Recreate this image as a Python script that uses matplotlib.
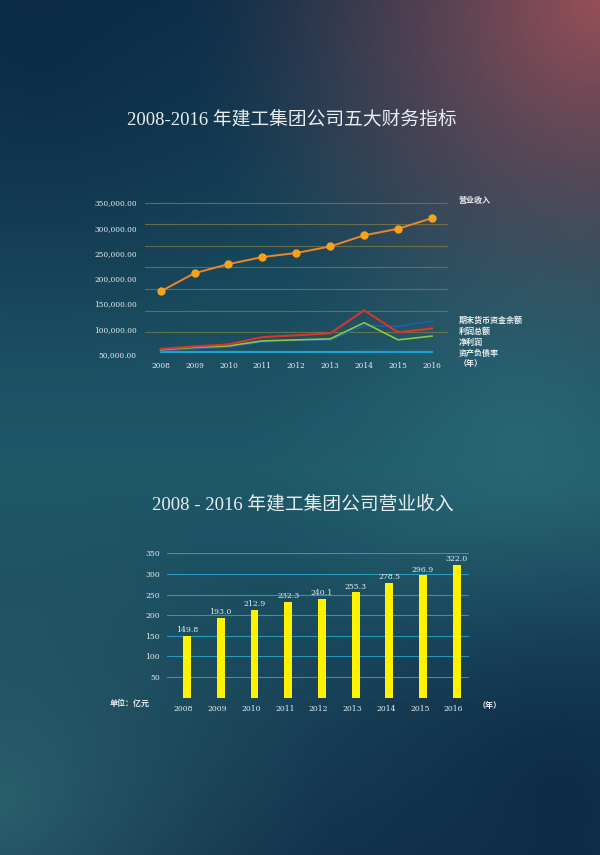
import numpy as np
import matplotlib.pyplot as plt

# 数据
years = ['2008', '2009', '2010', '2011', '2012', '2013', '2014', '2015', '2016']
revenue_line = [174000, 210000, 228000, 242000, 250000, 263000, 285000, 298000, 319000]
cash_end = [57000, 60000, 64000, 74000, 77000, 77500, 106000, 105000, 115000]
total_profit = [60000, 65000, 69000, 83500, 87000, 91000, 136500, 93000, 100500]
net_profit = [58500, 63000, 66000, 76000, 78000, 80000, 112000, 78000, 85500]
debt_ratio = [54000, 54000, 54000, 54000, 54000, 54000, 54000, 54000, 54000]
y_ticks_top = [50000, 100000, 150000, 200000, 250000, 300000, 350000]

revenue_bar = [149.8, 193.0, 212.9, 232.3, 240.1, 255.3, 278.5, 296.9, 322.0]
y_ticks_bottom = [50, 100, 150, 200, 250, 300, 350]

plt.rcParams['font.family'] = ['Liberation Serif', 'Noto Sans CJK SC']
num_font = ['DejaVu Serif', 'Noto Sans CJK SC']
txt = '#e8eef0'

fig = plt.figure(figsize=(6, 8.55), dpi=100)

# 背景渐变
H, W = 855, 600
yy, xx = np.mgrid[0:H, 0:W]
t = yy / H
top = np.array([0.06, 0.19, 0.29])
mid = np.array([0.12, 0.35, 0.41])
bot = np.array([0.08, 0.20, 0.30])
base = np.where(t[..., None] < 0.55,
                top + (mid - top) * (t[..., None] / 0.55),
                mid + (bot - mid) * ((t[..., None] - 0.55) / 0.45))

def blob(cx, cy, r, color, strength):
    global base
    d = np.sqrt((xx - cx) ** 2 + (yy - cy) ** 2) / r
    w = np.clip(1 - d, 0, 1) ** 1.3 * strength
    base = base * (1 - w[..., None]) + np.array(color) * w[..., None]

blob(600, 0, 420, (0.62, 0.32, 0.35), 0.95)
blob(520, 440, 280, (0.18, 0.43, 0.48), 0.7)
blob(0, 800, 340, (0.18, 0.41, 0.45), 0.8)
blob(560, 790, 300, (0.05, 0.16, 0.27), 0.85)
blob(40, 60, 320, (0.04, 0.15, 0.26), 0.6)

bg = fig.add_axes([0, 0, 1, 1])
bg.imshow(np.clip(base, 0, 1), aspect='auto', extent=[0, 1, 0, 1])
bg.axis('off')

# 上图：五大财务指标
fig.text(0.487, 1 - 120 / H, '2008-2016 年建工集团公司五大财务指标',
         ha='center', va='center', fontsize=13.5, color=txt)

ax1 = fig.add_axes([145 / W, 1 - 354 / H, 303 / W, 152 / H])
ax1.patch.set_alpha(0)
x = np.arange(len(years))
ax1.set_xlim(-0.46, 8.47)
ax1.set_ylim(50000, 351000)
for g in np.linspace(50000, 350000, 8):
    ax1.axhline(g, color='#7a7a4a', lw=0.8, alpha=0.8, zorder=1)

ax1.plot(x, debt_ratio, color='#1aa3cf', lw=1.6, zorder=3)
ax1.plot(x, cash_end, color='#1f5fa8', lw=1.2, zorder=3)
ax1.plot(x, net_profit, color='#8cc63f', lw=1.2, zorder=4)
ax1.plot(x, total_profit, color='#d9352b', lw=1.5, zorder=5)
ax1.plot(x, revenue_line, color='#e9872a', lw=1.4, marker='o', ms=5,
         mfc='#f7a21b', mec='#f7a21b', zorder=6)

ax1.set_xticks(x)
ax1.set_xticklabels(years, family=num_font)
ax1.set_yticks(y_ticks_top)
ax1.set_yticklabels([f'{v:,.2f}' for v in y_ticks_top], family=num_font)
ax1.tick_params(length=0, labelsize=5.3, colors=txt, pad=6)
for s in ax1.spines.values():
    s.set_visible(False)

legend_top = [('营业收入', 201), ('期末货币资金余额', 321), ('利润总额', 332),
              ('净利润', 343), ('资产负债率', 354), ('（年）', 364)]
for label, ypx in legend_top:
    fig.text(459 / W, 1 - ypx / H, label, ha='left', va='center',
             fontsize=5.8, color=txt, fontweight='bold')

# 下图：营业收入柱状图
fig.text(0.505, 1 - 505 / H, '2008 - 2016 年建工集团公司营业收入',
         ha='center', va='center', fontsize=13.5, color=txt)

ax2 = fig.add_axes([166.7 / W, 1 - 697.7 / H, 302.3 / W, 144.4 / H])
ax2.patch.set_alpha(0)
ax2.set_xlim(-0.6, 8.36)
ax2.set_ylim(0, 350)
for g in [0] + y_ticks_bottom:
    ax2.axhline(g, color='#2aa7c9', lw=0.8, alpha=0.85, zorder=1)
bars = ax2.bar(x, revenue_bar, width=0.23, color='#fff200', zorder=3)
for xi, v in zip(x, revenue_bar):
    ax2.text(xi, v + 4, f'{v:.1f}', ha='center', va='bottom',
             fontsize=5.6, color=txt, zorder=4, family=num_font)

ax2.set_xticks(x - 0.1)
ax2.set_xticklabels(years, family=num_font)
ax2.set_yticks(y_ticks_bottom)
ax2.set_yticklabels([str(v) for v in y_ticks_bottom], family=num_font)
ax2.tick_params(length=0, labelsize=5.5, colors=txt, pad=5)
for s in ax2.spines.values():
    s.set_visible(False)

fig.text(110 / W, 1 - 704 / H, '单位：亿元', ha='left', va='center',
         fontsize=5.8, color=txt, fontweight='bold')
fig.text(478 / W, 1 - 706 / H, '（年）', ha='left', va='center',
         fontsize=5.8, color=txt, fontweight='bold')

fig.savefig('out.png', dpi=100)
